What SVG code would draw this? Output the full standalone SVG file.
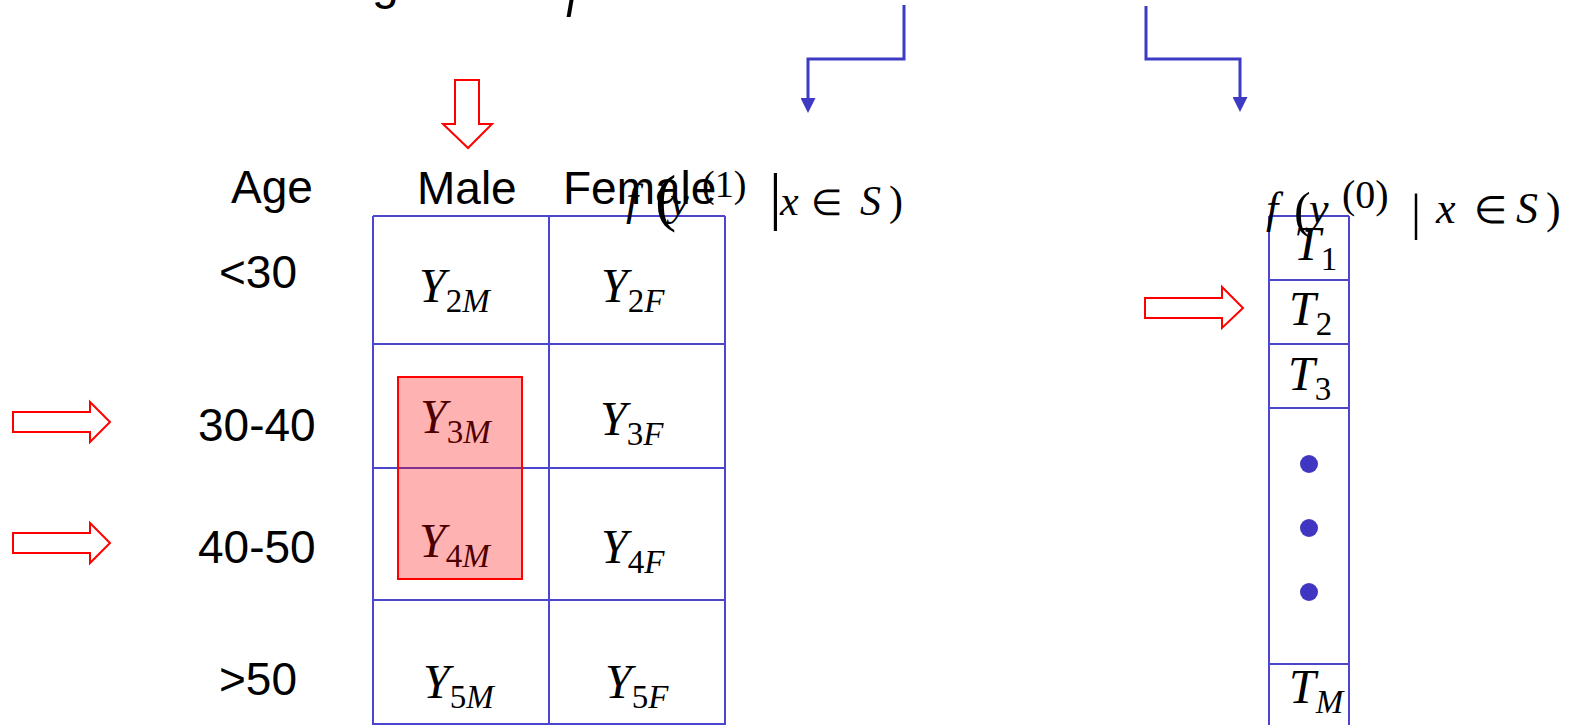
<svg xmlns="http://www.w3.org/2000/svg" width="1569" height="725" viewBox="0 0 1569 725">
<style>
.lbl{font-family:"Liberation Sans",Arial,sans-serif;font-size:46px;fill:#000}
.m{font-family:"Liberation Serif","Times New Roman",serif;font-style:italic;font-size:48px;fill:#000}
.sub{font-size:33px}
.up{font-style:normal}
.r{font-family:"Liberation Serif","Times New Roman",serif;fill:#000}
.grid{stroke:#4C46CE;stroke-width:2;fill:none}
.conn{stroke:#3F3AC4;stroke-width:3;fill:none}
.red{fill:#fff;stroke:#FF0000;stroke-width:2;stroke-linejoin:miter}
</style>
<defs>
<marker id="ah" viewBox="0 0 15 15" refX="2" refY="7.5" markerWidth="15" markerHeight="15" markerUnits="userSpaceOnUse" orient="auto">
<path d="M0,0 L15,7.5 L0,15 z" fill="#3F3AC4"/>
</marker>
</defs>
<rect width="1569" height="725" fill="#fff"/>

<g id="title-fragment">
<text x="372" y="-1" style="font-family:'Liberation Sans',Arial,sans-serif;font-size:48px">g</text>
<text x="566" y="6" class="m" style="font-size:50px">f</text>
</g>

<g id="connectors">
<path class="conn" d="M904,5 V59 H808 V100" marker-end="url(#ah)"/>
<path class="conn" d="M1146,6 V59 H1240 V99" marker-end="url(#ah)"/>
</g>

<g id="table">
<path class="grid" d="M373,216 V725 M549,216 V725 M725,216 V725 M373,216 H725 M373,344 H725 M373,468 H725 M373,600 H725 M373,724 H725"/>
</g>

<g id="headers">
<text class="lbl" x="231" y="203">Age</text>
<text class="lbl" x="417" y="204">Male</text>
<text class="lbl" x="563" y="204">Female</text>
</g>

<g id="age-labels">
<text class="lbl" x="219" y="288">&lt;30</text>
<text class="lbl" x="198" y="441">30-40</text>
<text class="lbl" x="198" y="563">40-50</text>
<text class="lbl" x="219" y="695">&gt;50</text>
</g>

<g id="cells">
<text class="m" x="419" y="302">Y<tspan class="sub up" dy="10">2</tspan><tspan class="sub">M</tspan></text>
<text class="m" x="601" y="302">Y<tspan class="sub up" dy="10">2</tspan><tspan class="sub">F</tspan></text>
<text class="m" x="420" y="433">Y<tspan class="sub up" dy="10">3</tspan><tspan class="sub">M</tspan></text>
<text class="m" x="600" y="435">Y<tspan class="sub up" dy="10">3</tspan><tspan class="sub">F</tspan></text>
<text class="m" x="419" y="557">Y<tspan class="sub up" dy="10">4</tspan><tspan class="sub">M</tspan></text>
<text class="m" x="601" y="563">Y<tspan class="sub up" dy="10">4</tspan><tspan class="sub">F</tspan></text>
<text class="m" x="423" y="698">Y<tspan class="sub up" dy="10">5</tspan><tspan class="sub">M</tspan></text>
<text class="m" x="605" y="698">Y<tspan class="sub up" dy="10">5</tspan><tspan class="sub">F</tspan></text>
</g>

<g id="highlight">
<rect x="398" y="377" width="124" height="202" fill="#FF0000" fill-opacity="0.3" stroke="#FF0000" stroke-width="2"/>
</g>

<g id="formula-1">
<text class="m" x="626" y="215" style="font-size:44px">f</text>
<text class="r" x="655" y="219" style="font-size:64px">(</text>
<text class="m" x="670" y="215" style="font-size:42px">y</text>
<text class="r" x="702" y="197" style="font-size:38px">(1)</text>
<text class="r" x="769" y="217" style="font-size:64px">|</text>
<text class="m" x="780" y="215" style="font-size:42px">x</text>
<text class="r" x="811" y="215" style="font-size:36px">∈</text>
<text class="m" x="860" y="215" style="font-size:42px">S</text>
<text class="r" x="889" y="215" style="font-size:42px">)</text>
</g>

<g id="column-T">
<path class="grid" d="M1269,216 V725 M1349,216 V725 M1269,216 H1349 M1269,280 H1349 M1269,344 H1349 M1269,408 H1349 M1269,664 H1349"/>
<text class="m" x="1294" y="260">T<tspan class="sub up" dy="10">1</tspan></text>
<text class="m" x="1289" y="325">T<tspan class="sub up" dy="10">2</tspan></text>
<text class="m" x="1288" y="390">T<tspan class="sub up" dy="10">3</tspan></text>
<text class="m" x="1289" y="703">T<tspan class="sub" dy="10">M</tspan></text>
<circle cx="1309" cy="464" r="9" fill="#3F37C2"/>
<circle cx="1309" cy="528" r="9" fill="#3F37C2"/>
<circle cx="1309" cy="592" r="9" fill="#3F37C2"/>
</g>

<g id="formula-2">
<text class="m" x="1266" y="223" style="font-size:44px">f</text>
<text class="r" x="1294" y="227" style="font-size:50px">(</text>
<text class="m" x="1309" y="223" style="font-size:44px">y</text>
<text class="r" x="1342" y="208" style="font-size:40px">(0)</text>
<text class="r" x="1411" y="229" style="font-size:50px">|</text>
<text class="m" x="1436" y="223" style="font-size:44px">x</text>
<text class="r" x="1474" y="223" style="font-size:38px">∈</text>
<text class="m" x="1516" y="223" style="font-size:44px">S</text>
<text class="r" x="1546" y="223" style="font-size:44px">)</text>
</g>

<g id="red-arrows">
<polygon class="red" points="455,80 479,80 479,124 492,124 468,148 443,124 455,124"/>
<polygon class="red" points="1145,298 1222,298 1222,287 1243,308 1222,328 1222,318 1145,318"/>
<polygon class="red" points="13,412 90,412 90,402 110,422 90,442 90,432 13,432"/>
<polygon class="red" points="13,533 90,533 90,523 110,543 90,563 90,553 13,553"/>
</g>
</svg>
